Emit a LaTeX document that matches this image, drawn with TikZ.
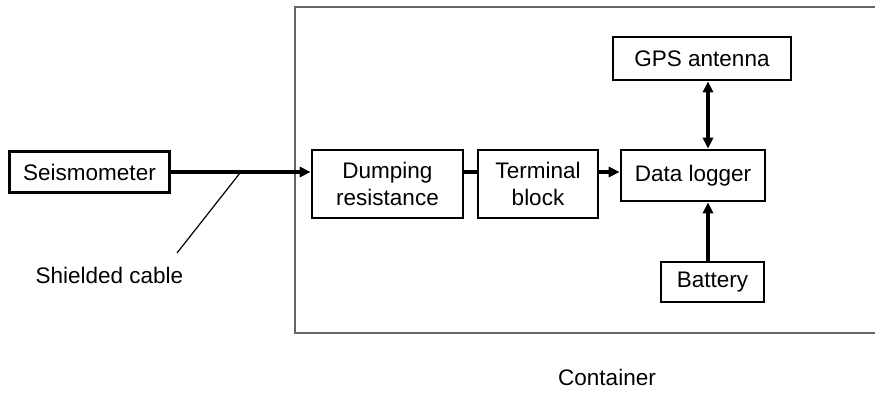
\documentclass[tikz,border=0pt]{standalone}
\usepackage{fontspec}
\setmainfont{Liberation Sans}
\usetikzlibrary{arrows.meta,calc}

\begin{document}
\begin{tikzpicture}[x=1pt,y=-1pt,
    unit/.style={draw, line width=2.6pt, inner sep=0pt, align=center,
                 font=\fontsize{22.5}{27}\selectfont},
    cable/.style={line width=3.6pt, -{Triangle[length=11pt,width=10pt]}},
    wire/.style={line width=3.2pt},
    lead/.style={line width=1.2pt}]

  % === FRAME ===
  \useasboundingbox (0,0) rectangle (875,397);

  % container outline, open on the right
  \draw[black!60, line width=2pt] (880,7) -- (295,7) -- (295,333) -- (880,333);
  \node[font=\fontsize{22.5}{27}\selectfont] (cont) at (607,377) {Container};

  % === UNITS ===
  \node[unit, minimum width=160, minimum height=41] (seis)   at (89.5,172)  {Seismometer};
  \node[unit, minimum width=151, minimum height=68] (damp)   at (387.5,184) {Dumping\\resistance};
  \node[unit, minimum width=120, minimum height=68] (term)   at (538,184)   {Terminal\\block};
  \node[unit, minimum width=144, minimum height=51] (logger) at (693,175.5) {Data logger};
  \node[unit, minimum width=178, minimum height=43] (gps)    at (702,58.5)  {GPS antenna};
  \node[unit, minimum width=103, minimum height=40] (batt)   at (712.5,282) {Battery};

  % === SIGNAL PATH ===
  \draw[cable] (seis.east) -- (seis.east -| damp.west);
  \draw[wire] (damp.east |- seis.east) -- (term.west |- seis.east);
  \draw[cable, line width=3.2pt] (term.east |- seis.east) -- (logger.west |- seis.east);

  % GPS link and power feed
  \coordinate (trunk) at (708,0);
  \draw[wire, {Triangle[length=11pt,width=10pt]}-{Triangle[length=11pt,width=10pt]}]
    (trunk |- gps.south) -- (trunk |- logger.north);
  \draw[cable, line width=3.2pt] (trunk |- batt.north) -- (trunk |- logger.south);

  % === CABLE CALLOUT ===
  \node[font=\fontsize{22.5}{27}\selectfont] (shield) at (109.5,275) {Shielded cable};
  \coordinate (tap) at (240,173);
  \coordinate (foot) at (177,253);
  \draw[lead] (tap) -- (foot);

\end{tikzpicture}
\end{document}
